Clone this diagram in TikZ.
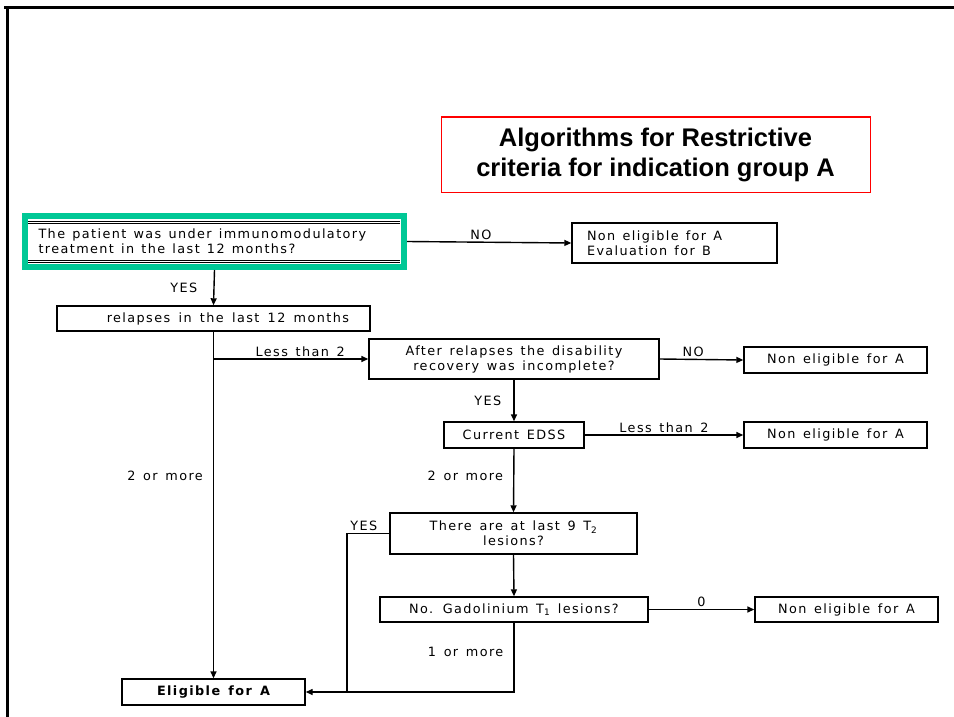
\documentclass[tikz,border=0pt]{standalone}
\usepackage{fontspec}
\usetikzlibrary{arrows.meta}
\newfontfamily\flowfont[LetterSpace=11,WordSpace=1.4]{DejaVu Sans}
\newfontfamily\titlefont{Liberation Sans}
\definecolor{hilite}{RGB}{0,200,150}
\newcommand\wordgap{\spaceskip 7.2pt plus 1pt minus 0.5pt\relax}

\tikzset{
  qbox/.style={draw, line width=1.4pt, inner sep=0pt, align=center,
    font=\flowfont\fontsize{12.8}{15}\selectfont},
  parbox/.style={execute at begin node=\wordgap},
  lbl/.style={font=\flowfont\fontsize{12.8}{15}\selectfont, inner sep=2pt},
  ln/.style={line width=1.4pt},
  arr/.style={line width=1.4pt, -{Triangle[length=7pt,width=6pt]}},
}

\begin{document}
\begin{tikzpicture}[x=1pt,y=-1pt]
\useasboundingbox (0,0) rectangle (954,717);

% page frame
\draw[line width=3pt] (4,8) -- (954,8);
\draw[line width=3pt] (7,8) -- (7,717);

\node[draw=red, line width=1pt, minimum width=429pt, minimum height=75pt, align=center,
  font=\titlefont\bfseries\fontsize{25.5}{30}\selectfont] (title) at (655.5,154.5)
  {Algorithms for Restrictive\\criteria for indication group A};

% questions
\node[qbox, parbox, draw=hilite, line width=6pt, minimum width=379pt, minimum height=51pt,
  text width=352pt, align=left] (patient) at (214.5,241.5)
  {The patient was under immunomodulatory\\treatment in the last 12 months?};
\foreach \dy in {8,10} {
  \draw[line width=0.8pt] ([xshift=6pt,yshift=-\dy pt]patient.north west) -- ([xshift=-7pt,yshift=-\dy pt]patient.north east);
  \draw[line width=0.8pt] ([xshift=6pt,yshift=\dy pt]patient.south west) -- ([xshift=-7pt,yshift=\dy pt]patient.south east);
}
\node[qbox, parbox, minimum width=205pt, minimum height=40pt, text width=175pt, align=left]
  (evalB) at (674.5,243) {Non eligible for A\\Evaluation for B};

\node[qbox, parbox, minimum width=313pt, minimum height=25pt, text width=271pt, align=right]
  (relapses) at (213.5,318.5) {relapses in the last 12 months};
\node[qbox, minimum width=290pt, minimum height=40pt] (recovery) at (514,359)
  {After relapses the disability\\recovery was incomplete?};
\node[qbox, minimum width=183pt, minimum height=26pt] (nonA1) at (835.5,360) {Non eligible for A};

\node[qbox, minimum width=140pt, minimum height=26pt] (edss) at (514,435) {Current EDSS};
\node[qbox, minimum width=183pt, minimum height=26pt] (nonA2) at (835.5,435) {Non eligible for A};

\node[qbox, minimum width=247pt, minimum height=41pt] (tlesions) at (513.5,533.5)
  {There are at last 9 T\textsubscript{2}\\lesions?};
\node[qbox, minimum width=268pt, minimum height=25pt] (gado) at (514,609.5)
  {No. Gadolinium T\textsubscript{1} lesions?};
\node[qbox, minimum width=183pt, minimum height=25pt] (nonA3) at (846.5,609.5) {Non eligible for A};

\node[qbox, minimum width=183pt, minimum height=26pt, font=\flowfont\bfseries\fontsize{12.8}{15}\selectfont]
  (eligA) at (213.5,692) {Eligible for A};

\coordinate (join) at (347,692);

% connectors
\draw[arr] (patient.east) -- node[lbl, above, pos=0.45] {NO} (evalB.west);
\draw[arr] (patient.south) -- node[lbl, left=14pt] {YES} (relapses.north);
\draw[arr] (relapses.south) -- node[lbl, left=8pt, pos=0.417] {2 or more} (eligA.north);
\draw[arr] (relapses.south) |- node[lbl, above, pos=0.78] {Less than 2} (recovery.west);
\draw[arr] (recovery.east) -- node[lbl, above, pos=0.4] {NO} (nonA1.west);
\draw[arr] (recovery.south) -- node[lbl, left=10pt] {YES} (edss.north);
\draw[arr] (edss.east) -- node[lbl, above] {Less than 2} (nonA2.west);
\draw[arr] (edss.south) -- node[lbl, left=8pt, pos=0.43] {2 or more} (tlesions.north);
\draw[ln] (tlesions.west) -| node[lbl, above, pos=0.3] {YES} (join);
\draw[arr] (tlesions.south) -- (gado.north);
\draw[arr] (gado.east) -- node[lbl, above] {0} (nonA3.west);
\draw[arr] (gado.south) |- node[lbl, left=8pt, pos=0.21] {1 or more} (eligA.east);
\end{tikzpicture}
\end{document}
